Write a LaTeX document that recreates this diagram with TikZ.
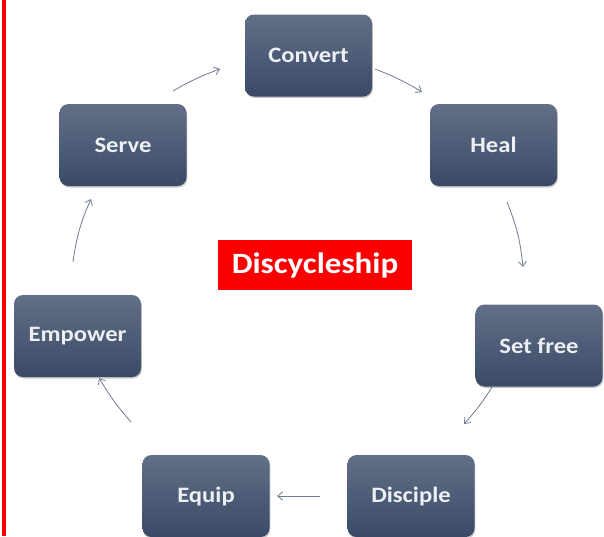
\documentclass[tikz,border=0pt]{standalone}
\usepackage{fontspec}
\newfontfamily\boxfont[FakeStretch=1.12]{Carlito}
\usetikzlibrary{shadows,arrows.meta}
\definecolor{boxtop}{RGB}{98,111,136}
\definecolor{boxbot}{RGB}{58,74,102}
\definecolor{arrowc}{RGB}{112,124,146}
\definecolor{txtc}{RGB}{236,239,243}
\definecolor{redc}{RGB}{250,0,0}
\begin{document}
\begin{tikzpicture}[x=1pt,y=-1pt,
  stage/.style={rectangle, rounded corners=9pt, minimum width=127pt,
    minimum height=82pt, inner sep=0pt, top color=boxtop, bottom color=boxbot,
    draw=none, text=txtc, font=\boxfont\bfseries\fontsize{22}{26}\selectfont,
    drop shadow={shadow xshift=0.8pt, shadow yshift=-1.5pt, opacity=0.22, fill=black}},
  flow/.style={draw=arrowc, line width=0.8pt, -{Straight Barb[length=5pt,width=8pt]}},
  titlebox/.style={fill=redc, text=white, inner sep=0pt,
    font=\boxfont\bfseries\fontsize{29.5}{33}\selectfont,
    minimum width=194pt, minimum height=50pt}]
\useasboundingbox (0,0) rectangle (604,536);
\fill[white] (0,0) rectangle (604,536);
\fill[redc] (1.5,0) rectangle (6,536);

\node[stage] (convert)  at (308.5,55.5) {Convert};
\node[stage] (heal)     at (493.5,145)  {Heal};
\node[stage] (setfree)  at (539,345.5)  {Set free};
\node[stage] (disciple) at (411,496)    {Disciple};
\node[stage] (equip)    at (206,496)    {Equip};
\node[stage] (empower)  at (77.5,336)   {Empower};
\node[stage] (serve)    at (123,145)    {Serve};

\node[titlebox] (title) at (315,265) {Discycleship};

\coordinate (a1s) at (173,91);  \coordinate (a1e) at (220,69);
\coordinate (a2s) at (375,69);  \coordinate (a2e) at (422,92);
\coordinate (a3s) at (507,202); \coordinate (a3e) at (523,267);
\coordinate (a4s) at (492,387); \coordinate (a4e) at (464,424);
\coordinate (a5s) at (320,496); \coordinate (a5e) at (277,496);
\coordinate (a6s) at (131,422); \coordinate (a6e) at (99,378);
\coordinate (a7s) at (73,262);  \coordinate (a7e) at (91,199);

\draw[flow] (a1s) to[bend left=5] (a1e);
\draw[flow] (a2s) to[bend left=5] (a2e);
\draw[flow] (a3s) to[bend left=8] (a3e);
\draw[flow] (a4s) to[bend left=5] (a4e);
\draw[flow] (a5s) to (a5e);
\draw[flow] (a6s) to[bend left=5] (a6e);
\draw[flow] (a7s) to[bend left=8] (a7e);
\end{tikzpicture}
\end{document}
